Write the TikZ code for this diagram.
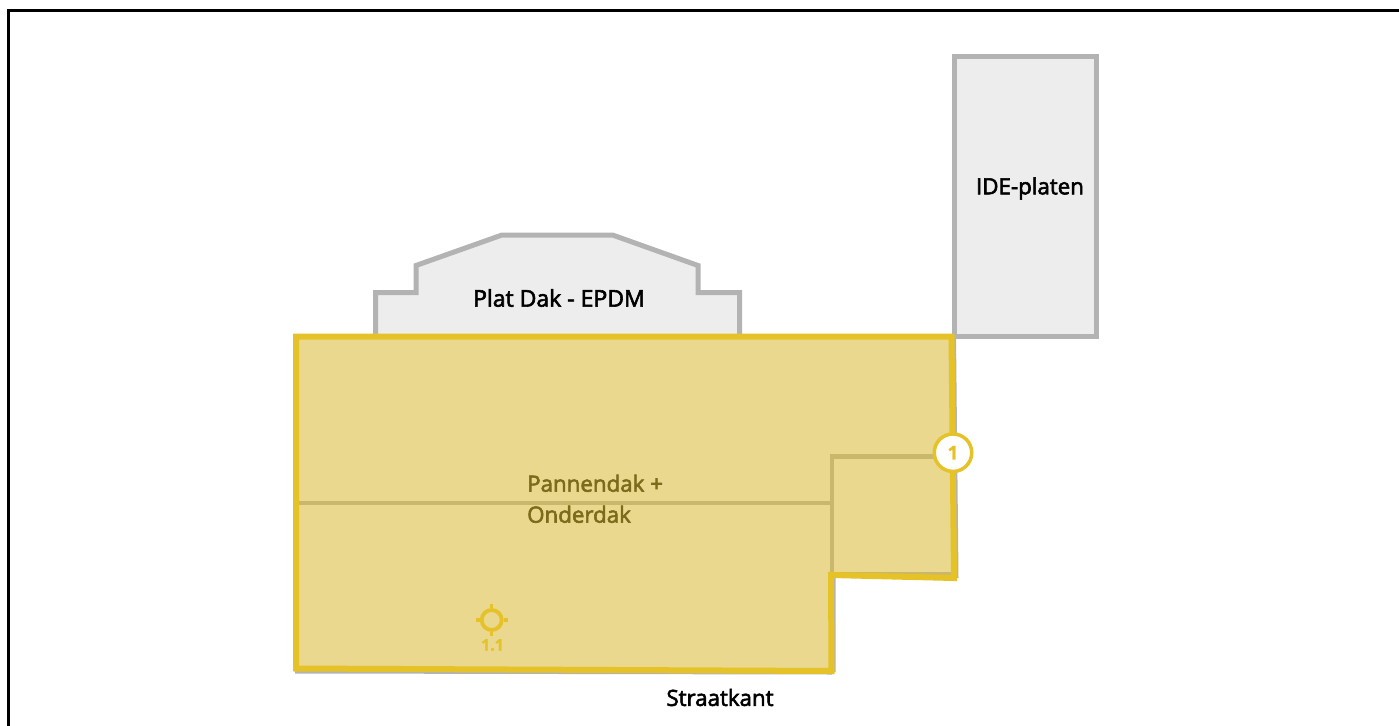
\documentclass[tikz,border=0pt]{standalone}
\usepackage{fontspec}
\setmainfont{Open Sans}
\definecolor{roofgrey}{HTML}{B3B3B3}
\definecolor{roofgreyfill}{HTML}{EDEDED}
\definecolor{gold}{HTML}{E6C229}
\definecolor{goldfill}{HTML}{E9D88D}
\definecolor{ridge}{HTML}{C9B76C}
\definecolor{darkgold}{HTML}{7D6B1C}
\newfontfamily\lblfont[FakeBold=2.6]{Open Sans}
\newfontfamily\markfont[FakeBold=1.5,BoldFont={Open Sans Bold}]{Open Sans Bold}
\tikzset{
  roofpart/.style={draw=roofgrey,fill=roofgreyfill,line width=5pt,line join=miter},
  goldroof/.style={draw=gold,line width=6pt,line join=miter},
  ridgeline/.style={draw=ridge,line width=4.5pt},
  lbl/.style={inner sep=0pt,font=\lblfont\fontsize{22.3}{31}\selectfont,text=black},
  goldlbl/.style={lbl,text=darkgold,align=left},
  tick/.style={draw=gold,line width=3.5pt}
}
\begin{document}
\begin{tikzpicture}[x=1pt,y=-1pt]
\useasboundingbox (0,0) rectangle (1399,725);
\fill[white] (0,0) rectangle (1399,725);
% frame
\draw[black,line width=3pt] (8.5,730) -- (8.5,10.5) -- (1405,10.5);
% grey roofs
\draw[roofpart] (375.5,338) -- (375.5,292.5) -- (416,292.5) -- (416,265.5) -- (502,235) -- (612.5,235) -- (698,265.5) -- (698,292.5) -- (739.5,292.5) -- (739.5,338);
\draw[roofpart] (954.5,56.5) rectangle (1096.5,336.5);
% grey outline under the gold roof
\draw[draw=roofgrey,line width=3pt] (295,672) -- (832,673) (954.5,336) -- (957,578) (834,576) -- (834,672);
% gold roof
\fill[goldfill] (296,336.5) -- (951.5,336.5) -- (954,578) -- (831,575) -- (831.5,671) -- (296,668.5) -- cycle;
\draw[ridgeline] (296,503) -- (831,503);
\draw[ridgeline] (832,576) -- (832,456.5) -- (950,456.5);
\draw[ridgeline] (832,574) -- (952,574);
\draw[goldroof] (296,336.5) -- (951.5,336.5) -- (954,578) -- (831,575) -- (831.5,671) -- (296,668.5) -- cycle;
% marker 1
\node[circle,draw=gold,fill=white,line width=3.5pt,minimum size=37.5pt,inner sep=0pt,font=\fontsize{19}{22}\selectfont\markfont,text=gold] (m1) at (953,452.7) {1};
% target
\node[circle,draw=gold,line width=3.8pt,minimum size=20pt,inner sep=0pt] (t1) at (491.7,620) {};
\draw[tick] (t1.north) -- ++(0,-4);
\draw[tick] (t1.south) -- ++(0,4);
\draw[tick] (t1.east) -- ++(4,0);
\draw[tick] (t1.west) -- ++(-4,0);
\node[inner sep=0pt,font=\fontsize{16}{19}\selectfont\markfont,text=gold] (t1l) at (492.5,645) {1.1};
% labels
\node[lbl,font=\lblfont\fontsize{23}{31}\selectfont] (plat) at (559,298) {Plat Dak - EPDM};
\node[lbl] (ide) at (1030,188.5) {IDE-platen};
\node[goldlbl,anchor=north west] (pan) at (527,474.5) {Pannendak +\\Onderdak};
\node[lbl] (straat) at (720,697.5) {Straatkant};
\end{tikzpicture}
\end{document}
